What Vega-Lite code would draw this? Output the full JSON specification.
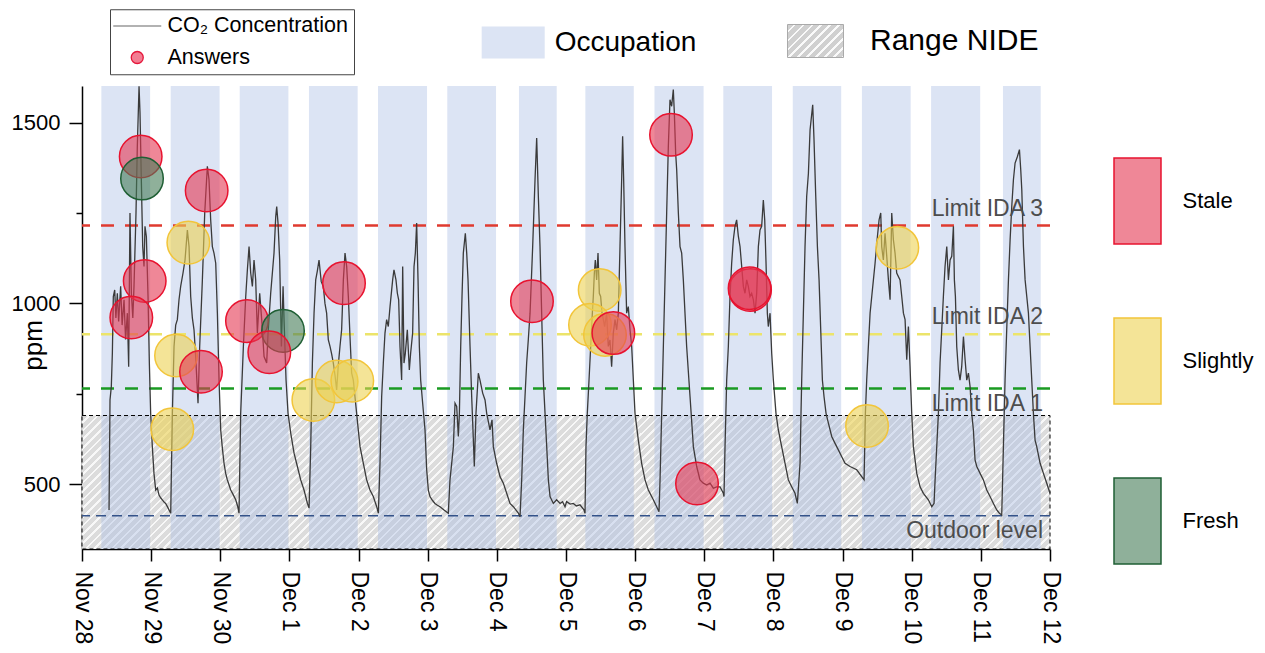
{
"$schema": "https://vega.github.io/schema/vega-lite/v6.json",
"width": 968, "height": 463,
"autosize": {"type": "none"},
"padding": {"left": 82, "top": 86, "right": 215, "bottom": 104},
"background": "white",
"config": {"font": "Liberation Sans", "view": {"stroke": null}, "legend": {"labelFont": "Liberation Sans", "labelColor": "black", "labelLimit": 400}},
"datasets": {
"nide": [{"from":0,"to":1,"lower":321,"upper":690},{"from":1,"to":2,"lower":321,"upper":690},{"from":2,"to":3,"lower":321,"upper":690},{"from":3,"to":4,"lower":321,"upper":690},{"from":4,"to":5,"lower":321,"upper":690},{"from":5,"to":6,"lower":321,"upper":690},{"from":6,"to":7,"lower":321,"upper":690},{"from":7,"to":8,"lower":321,"upper":690},{"from":8,"to":9,"lower":321,"upper":690},{"from":9,"to":10,"lower":321,"upper":690},{"from":10,"to":11,"lower":321,"upper":690},{"from":11,"to":12,"lower":321,"upper":690},{"from":12,"to":13,"lower":321,"upper":690},{"from":13,"to":14,"lower":321,"upper":690}],
"occupation": [{"start":0.28,"end":0.985},{"start":1.283,"end":1.99},{"start":2.281,"end":2.985},{"start":3.283,"end":3.987},{"start":4.281,"end":4.99},{"start":5.283,"end":5.988},{"start":6.32,"end":6.866},{"start":7.28,"end":7.98},{"start":8.28,"end":8.99},{"start":9.275,"end":9.98},{"start":10.28,"end":10.98},{"start":11.28,"end":11.985},{"start":12.28,"end":12.99},{"start":13.32,"end":13.866}],
"co2": [
{"t":0.391,"ppm":429},{"t":0.405,"ppm":733},{"t":0.424,"ppm":770},{"t":0.439,"ppm":862},{"t":0.453,"ppm":1019},{"t":0.473,"ppm":1037},{"t":0.49,"ppm":960},{"t":0.511,"ppm":1028},{"t":0.53,"ppm":950},{"t":0.559,"ppm":1047},{"t":0.58,"ppm":940},{"t":0.608,"ppm":1010},{"t":0.63,"ppm":900},{"t":0.656,"ppm":973},{"t":0.675,"ppm":825},{"t":0.694,"ppm":1250},{"t":0.714,"ppm":1028},{"t":0.735,"ppm":960},{"t":0.752,"ppm":1047},{"t":0.781,"ppm":1250},{"t":0.8,"ppm":1434},{"t":0.825,"ppm":1600},{"t":0.839,"ppm":1526},{"t":0.858,"ppm":1342},{"t":0.878,"ppm":1157},{"t":0.897,"ppm":1102},{"t":0.911,"ppm":1213},{"t":0.931,"ppm":1185},{"t":0.955,"ppm":1019},{"t":0.974,"ppm":835},{"t":0.993,"ppm":696},{"t":1.017,"ppm":604},{"t":1.041,"ppm":530},{"t":1.066,"ppm":484},{"t":1.09,"ppm":490},{"t":1.114,"ppm":470},{"t":1.14,"ppm":462},{"t":1.162,"ppm":457},{"t":1.19,"ppm":450},{"t":1.21,"ppm":447},{"t":1.235,"ppm":438},{"t":1.259,"ppm":429},{"t":1.283,"ppm":420},
{"t":1.307,"ppm":696},{"t":1.331,"ppm":881},{"t":1.355,"ppm":940},{"t":1.379,"ppm":955},{"t":1.403,"ppm":1010},{"t":1.427,"ppm":1047},{"t":1.461,"ppm":1084},{"t":1.49,"ppm":1120},{"t":1.524,"ppm":1203},{"t":1.548,"ppm":1157},{"t":1.572,"ppm":1019},{"t":1.596,"ppm":960},{"t":1.62,"ppm":927},{"t":1.644,"ppm":853},{"t":1.678,"ppm":724},{"t":1.702,"ppm":881},{"t":1.741,"ppm":1065},{"t":1.775,"ppm":1250},{"t":1.813,"ppm":1379},{"t":1.837,"ppm":1342},{"t":1.861,"ppm":1231},{"t":1.885,"ppm":1157},{"t":1.909,"ppm":1139},{"t":1.934,"ppm":1111},{"t":1.958,"ppm":973},{"t":1.982,"ppm":788},{"t":2.006,"ppm":650},{"t":2.03,"ppm":600},{"t":2.054,"ppm":558},{"t":2.078,"ppm":530},{"t":2.102,"ppm":512},{"t":2.127,"ppm":498},{"t":2.151,"ppm":484},{"t":2.19,"ppm":470},{"t":2.223,"ppm":457},{"t":2.25,"ppm":440},{"t":2.271,"ppm":420},
{"t":2.295,"ppm":696},{"t":2.334,"ppm":881},{"t":2.368,"ppm":1019},{"t":2.392,"ppm":1093},{"t":2.416,"ppm":1157},{"t":2.44,"ppm":1084},{"t":2.464,"ppm":1047},{"t":2.488,"ppm":1120},{"t":2.512,"ppm":1065},{"t":2.536,"ppm":918},{"t":2.57,"ppm":1028},{"t":2.599,"ppm":955},{"t":2.633,"ppm":853},{"t":2.671,"ppm":835},{"t":2.691,"ppm":918},{"t":2.729,"ppm":1028},{"t":2.777,"ppm":1139},{"t":2.802,"ppm":1240},{"t":2.816,"ppm":1268},{"t":2.835,"ppm":1222},{"t":2.859,"ppm":1120},{"t":2.884,"ppm":881},{"t":2.908,"ppm":1047},{"t":2.922,"ppm":955},{"t":2.951,"ppm":788},{"t":2.98,"ppm":696},{"t":3.019,"ppm":641},{"t":3.067,"ppm":586},{"t":3.115,"ppm":549},{"t":3.163,"ppm":512},{"t":3.211,"ppm":484},{"t":3.26,"ppm":447},{"t":3.284,"ppm":434},
{"t":3.308,"ppm":604},{"t":3.332,"ppm":835},{"t":3.356,"ppm":973},{"t":3.38,"ppm":1065},{"t":3.404,"ppm":1090},{"t":3.428,"ppm":1120},{"t":3.46,"ppm":1060},{"t":3.49,"ppm":1047},{"t":3.514,"ppm":1000},{"t":3.538,"ppm":973},{"t":3.562,"ppm":900},{"t":3.587,"ppm":881},{"t":3.611,"ppm":860},{"t":3.635,"ppm":835},{"t":3.66,"ppm":800},{"t":3.683,"ppm":761},{"t":3.707,"ppm":830},{"t":3.731,"ppm":881},{"t":3.755,"ppm":927},{"t":3.78,"ppm":1065},{"t":3.804,"ppm":1139},{"t":3.828,"ppm":1102},{"t":3.852,"ppm":1019},{"t":3.876,"ppm":908},{"t":3.9,"ppm":807},{"t":3.924,"ppm":788},{"t":3.948,"ppm":742},{"t":3.972,"ppm":696},{"t":3.996,"ppm":650},{"t":4.021,"ppm":604},{"t":4.069,"ppm":558},{"t":4.117,"ppm":512},{"t":4.165,"ppm":484},{"t":4.213,"ppm":466},{"t":4.262,"ppm":438},{"t":4.286,"ppm":420},
{"t":4.31,"ppm":558},{"t":4.334,"ppm":742},{"t":4.358,"ppm":835},{"t":4.382,"ppm":918},{"t":4.406,"ppm":955},{"t":4.43,"ppm":936},{"t":4.455,"ppm":991},{"t":4.493,"ppm":1065},{"t":4.512,"ppm":1093},{"t":4.541,"ppm":1065},{"t":4.561,"ppm":1028},{"t":4.58,"ppm":1010},{"t":4.599,"ppm":881},{"t":4.623,"ppm":788},{"t":4.638,"ppm":1102},{"t":4.657,"ppm":835},{"t":4.676,"ppm":862},{"t":4.705,"ppm":927},{"t":4.734,"ppm":816},{"t":4.753,"ppm":862},{"t":4.782,"ppm":918},{"t":4.802,"ppm":1102},{"t":4.821,"ppm":1139},{"t":4.84,"ppm":1222},{"t":4.86,"ppm":1065},{"t":4.879,"ppm":881},{"t":4.898,"ppm":788},{"t":4.927,"ppm":724},{"t":4.961,"ppm":650},{"t":4.985,"ppm":540},{"t":5.009,"ppm":484},{"t":5.033,"ppm":466},{"t":5.07,"ppm":455},{"t":5.105,"ppm":447},{"t":5.14,"ppm":442},{"t":5.178,"ppm":438},{"t":5.24,"ppm":428},{"t":5.298,"ppm":420},
{"t":5.322,"ppm":512},{"t":5.347,"ppm":558},{"t":5.371,"ppm":604},{"t":5.395,"ppm":724},{"t":5.419,"ppm":715},{"t":5.443,"ppm":632},{"t":5.458,"ppm":696},{"t":5.477,"ppm":881},{"t":5.496,"ppm":1019},{"t":5.515,"ppm":1139},{"t":5.544,"ppm":1194},{"t":5.564,"ppm":1139},{"t":5.583,"ppm":1065},{"t":5.612,"ppm":881},{"t":5.636,"ppm":742},{"t":5.66,"ppm":623},{"t":5.674,"ppm":549},{"t":5.698,"ppm":696},{"t":5.732,"ppm":807},{"t":5.756,"ppm":788},{"t":5.795,"ppm":752},{"t":5.829,"ppm":733},{"t":5.853,"ppm":696},{"t":5.901,"ppm":650},{"t":5.93,"ppm":678},{"t":5.949,"ppm":604},{"t":5.997,"ppm":558},{"t":6.046,"ppm":521},{"t":6.094,"ppm":503},{"t":6.142,"ppm":475},{"t":6.19,"ppm":447},{"t":6.239,"ppm":438},{"t":6.28,"ppm":428},{"t":6.311,"ppm":420},{"t":6.335,"ppm":410},
{"t":6.359,"ppm":512},{"t":6.383,"ppm":650},{"t":6.407,"ppm":742},{"t":6.431,"ppm":835},{"t":6.455,"ppm":900},{"t":6.48,"ppm":973},{"t":6.518,"ppm":1157},{"t":6.552,"ppm":1342},{"t":6.576,"ppm":1457},{"t":6.6,"ppm":1296},{"t":6.624,"ppm":1157},{"t":6.648,"ppm":973},{"t":6.672,"ppm":788},{"t":6.697,"ppm":696},{"t":6.721,"ppm":604},{"t":6.745,"ppm":512},{"t":6.769,"ppm":466},{"t":6.817,"ppm":447},{"t":6.865,"ppm":457},{"t":6.914,"ppm":447},{"t":6.95,"ppm":452},{"t":6.986,"ppm":438},{"t":7.009,"ppm":452},{"t":7.06,"ppm":445},{"t":7.106,"ppm":447},{"t":7.15,"ppm":440},{"t":7.202,"ppm":443},{"t":7.26,"ppm":429},{"t":7.275,"ppm":420},
{"t":7.289,"ppm":604},{"t":7.308,"ppm":696},{"t":7.333,"ppm":788},{"t":7.357,"ppm":881},{"t":7.381,"ppm":973},{"t":7.395,"ppm":1019},{"t":7.41,"ppm":1084},{"t":7.424,"ppm":1120},{"t":7.443,"ppm":1065},{"t":7.463,"ppm":1139},{"t":7.482,"ppm":1028},{"t":7.501,"ppm":1019},{"t":7.521,"ppm":973},{"t":7.54,"ppm":955},{"t":7.559,"ppm":936},{"t":7.588,"ppm":973},{"t":7.612,"ppm":881},{"t":7.636,"ppm":899},{"t":7.66,"ppm":825},{"t":7.684,"ppm":918},{"t":7.709,"ppm":955},{"t":7.733,"ppm":927},{"t":7.757,"ppm":973},{"t":7.781,"ppm":1157},{"t":7.805,"ppm":1342},{"t":7.819,"ppm":1462},{"t":7.834,"ppm":1342},{"t":7.853,"ppm":1157},{"t":7.877,"ppm":973},{"t":7.901,"ppm":991},{"t":7.926,"ppm":927},{"t":7.95,"ppm":881},{"t":7.974,"ppm":788},{"t":7.998,"ppm":696},{"t":8.046,"ppm":622},{"t":8.094,"ppm":558},{"t":8.143,"ppm":512},{"t":8.191,"ppm":484},{"t":8.263,"ppm":457},{"t":8.311,"ppm":438},{"t":8.345,"ppm":424},
{"t":8.36,"ppm":512},{"t":8.384,"ppm":696},{"t":8.408,"ppm":881},{"t":8.432,"ppm":1065},{"t":8.456,"ppm":1250},{"t":8.48,"ppm":1434},{"t":8.504,"ppm":1563},{"t":8.528,"ppm":1545},{"t":8.552,"ppm":1591},{"t":8.567,"ppm":1526},{"t":8.586,"ppm":1415},{"t":8.601,"ppm":1369},{"t":8.625,"ppm":1250},{"t":8.649,"ppm":1157},{"t":8.673,"ppm":1139},{"t":8.697,"ppm":1065},{"t":8.745,"ppm":881},{"t":8.794,"ppm":742},{"t":8.842,"ppm":604},{"t":8.89,"ppm":549},{"t":8.938,"ppm":512},{"t":8.986,"ppm":503},{"t":9.035,"ppm":498},{"t":9.083,"ppm":503},{"t":9.131,"ppm":489},{"t":9.179,"ppm":493},{"t":9.227,"ppm":493},{"t":9.276,"ppm":475},{"t":9.285,"ppm":466},
{"t":9.3,"ppm":604},{"t":9.324,"ppm":788},{"t":9.348,"ppm":881},{"t":9.372,"ppm":1019},{"t":9.396,"ppm":1111},{"t":9.42,"ppm":1176},{"t":9.444,"ppm":1213},{"t":9.468,"ppm":1231},{"t":9.493,"ppm":1185},{"t":9.517,"ppm":1157},{"t":9.541,"ppm":1102},{"t":9.565,"ppm":1047},{"t":9.589,"ppm":1028},{"t":9.613,"ppm":1065},{"t":9.637,"ppm":1047},{"t":9.661,"ppm":1019},{"t":9.685,"ppm":1028},{"t":9.71,"ppm":1010},{"t":9.734,"ppm":973},{"t":9.758,"ppm":1028},{"t":9.782,"ppm":1157},{"t":9.806,"ppm":1203},{"t":9.83,"ppm":1213},{"t":9.854,"ppm":1286},{"t":9.874,"ppm":1231},{"t":9.893,"ppm":1111},{"t":9.912,"ppm":973},{"t":9.926,"ppm":936},{"t":9.951,"ppm":973},{"t":9.975,"ppm":862},{"t":9.999,"ppm":788},{"t":10.037,"ppm":696},{"t":10.071,"ppm":650},{"t":10.119,"ppm":604},{"t":10.168,"ppm":558},{"t":10.216,"ppm":512},{"t":10.264,"ppm":493},{"t":10.312,"ppm":475},{"t":10.346,"ppm":447},
{"t":10.385,"ppm":558},{"t":10.399,"ppm":696},{"t":10.409,"ppm":788},{"t":10.433,"ppm":973},{"t":10.457,"ppm":1157},{"t":10.481,"ppm":1296},{"t":10.506,"ppm":1360},{"t":10.53,"ppm":1480},{"t":10.568,"ppm":1549},{"t":10.587,"ppm":1452},{"t":10.612,"ppm":1296},{"t":10.636,"ppm":1157},{"t":10.66,"ppm":1065},{"t":10.684,"ppm":927},{"t":10.708,"ppm":788},{"t":10.732,"ppm":742},{"t":10.761,"ppm":696},{"t":10.795,"ppm":669},{"t":10.843,"ppm":632},{"t":10.891,"ppm":613},{"t":10.939,"ppm":595},{"t":10.988,"ppm":576},{"t":11.036,"ppm":558},{"t":11.108,"ppm":549},{"t":11.205,"ppm":540},{"t":11.277,"ppm":521},{"t":11.311,"ppm":512},
{"t":11.33,"ppm":696},{"t":11.349,"ppm":788},{"t":11.373,"ppm":881},{"t":11.398,"ppm":973},{"t":11.422,"ppm":1019},{"t":11.446,"ppm":1065},{"t":11.47,"ppm":1111},{"t":11.504,"ppm":1185},{"t":11.528,"ppm":1231},{"t":11.552,"ppm":1250},{"t":11.566,"ppm":1157},{"t":11.59,"ppm":1120},{"t":11.614,"ppm":1194},{"t":11.639,"ppm":1130},{"t":11.663,"ppm":1065},{"t":11.687,"ppm":1010},{"t":11.711,"ppm":1250},{"t":11.735,"ppm":1176},{"t":11.759,"ppm":1139},{"t":11.783,"ppm":1084},{"t":11.831,"ppm":1065},{"t":11.856,"ppm":1019},{"t":11.88,"ppm":973},{"t":11.904,"ppm":955},{"t":11.928,"ppm":844},{"t":11.952,"ppm":936},{"t":11.976,"ppm":825},{"t":12.0,"ppm":696},{"t":12.024,"ppm":604},{"t":12.073,"ppm":530},{"t":12.121,"ppm":493},{"t":12.169,"ppm":475},{"t":12.241,"ppm":457},{"t":12.29,"ppm":438},{"t":12.323,"ppm":447},
{"t":12.338,"ppm":512},{"t":12.362,"ppm":604},{"t":12.386,"ppm":696},{"t":12.41,"ppm":835},{"t":12.434,"ppm":927},{"t":12.458,"ppm":1019},{"t":12.482,"ppm":1102},{"t":12.507,"ppm":1157},{"t":12.531,"ppm":1065},{"t":12.555,"ppm":1120},{"t":12.579,"ppm":1130},{"t":12.603,"ppm":1213},{"t":12.617,"ppm":1065},{"t":12.632,"ppm":1019},{"t":12.651,"ppm":881},{"t":12.675,"ppm":816},{"t":12.699,"ppm":788},{"t":12.723,"ppm":825},{"t":12.748,"ppm":908},{"t":12.772,"ppm":844},{"t":12.796,"ppm":788},{"t":12.82,"ppm":807},{"t":12.844,"ppm":770},{"t":12.868,"ppm":696},{"t":12.892,"ppm":650},{"t":12.916,"ppm":567},{"t":12.941,"ppm":549},{"t":12.989,"ppm":530},{"t":13.037,"ppm":512},{"t":13.085,"ppm":484},{"t":13.133,"ppm":466},{"t":13.182,"ppm":447},{"t":13.23,"ppm":429},{"t":13.268,"ppm":420},{"t":13.302,"ppm":415},
{"t":13.326,"ppm":604},{"t":13.35,"ppm":788},{"t":13.374,"ppm":927},{"t":13.399,"ppm":1065},{"t":13.423,"ppm":1176},{"t":13.447,"ppm":1268},{"t":13.471,"ppm":1342},{"t":13.495,"ppm":1388},{"t":13.529,"ppm":1406},{"t":13.558,"ppm":1425},{"t":13.577,"ppm":1369},{"t":13.592,"ppm":1314},{"t":13.616,"ppm":1157},{"t":13.64,"ppm":1065},{"t":13.664,"ppm":1019},{"t":13.688,"ppm":973},{"t":13.712,"ppm":881},{"t":13.736,"ppm":788},{"t":13.76,"ppm":696},{"t":13.784,"ppm":622},{"t":13.808,"ppm":604},{"t":13.857,"ppm":558},{"t":13.905,"ppm":530},{"t":13.953,"ppm":503},{"t":14.0,"ppm":475}
],
"answers": [
{"t":0.849,"ppm":1406,"answer":"Stale"},{"t":0.868,"ppm":1345,"answer":"Fresh"},{"t":1.803,"ppm":1312,"answer":"Stale"},{"t":1.538,"ppm":1168,"answer":"Slightly"},{"t":0.907,"ppm":1062,"answer":"Stale"},{"t":0.713,"ppm":961,"answer":"Stale"},{"t":1.36,"ppm":856,"answer":"Slightly"},{"t":1.721,"ppm":811,"answer":"Stale"},{"t":1.306,"ppm":652,"answer":"Slightly"},{"t":2.386,"ppm":951,"answer":"Stale"},{"t":2.907,"ppm":924,"answer":"Fresh"},{"t":2.709,"ppm":865,"answer":"Stale"},{"t":3.346,"ppm":733,"answer":"Slightly"},{"t":3.683,"ppm":784,"answer":"Slightly"},{"t":3.909,"ppm":786,"answer":"Slightly"},{"t":3.789,"ppm":1056,"answer":"Stale"},{"t":6.508,"ppm":1006,"answer":"Stale"},{"t":7.487,"ppm":1037,"answer":"Slightly"},{"t":7.347,"ppm":941,"answer":"Slightly"},{"t":7.564,"ppm":913,"answer":"Slightly"},{"t":7.685,"ppm":918,"answer":"Stale"},{"t":8.519,"ppm":1466,"answer":"Stale"},{"t":8.895,"ppm":502,"answer":"Stale"},{"t":9.662,"ppm":1037,"answer":"Stale"},{"t":9.655,"ppm":1042,"answer":"Stale"},{"t":11.792,"ppm":1154,"answer":"Slightly"},{"t":11.354,"ppm":661,"answer":"Slightly"}
]
},
"layer": [
{
"data": {"name": "nide"},
"mark": {"type": "rect", "fill": {"gradient": "linear", "x1": 0, "y1": 0, "x2": 0.6198, "y2": 1.1968, "stops": [
{"offset":0,"color":"#dcdcdc"},{"offset":0.02986,"color":"#dcdcdc"},{"offset":0.02986,"color":"#f8f8f8"},{"offset":0.04265,"color":"#f8f8f8"},
{"offset":0.04265,"color":"#dcdcdc"},{"offset":0.07251,"color":"#dcdcdc"},{"offset":0.07251,"color":"#f8f8f8"},{"offset":0.0853,"color":"#f8f8f8"},
{"offset":0.0853,"color":"#dcdcdc"},{"offset":0.11516,"color":"#dcdcdc"},{"offset":0.11516,"color":"#f8f8f8"},{"offset":0.12795,"color":"#f8f8f8"},
{"offset":0.12795,"color":"#dcdcdc"},{"offset":0.15781,"color":"#dcdcdc"},{"offset":0.15781,"color":"#f8f8f8"},{"offset":0.1706,"color":"#f8f8f8"},
{"offset":0.1706,"color":"#dcdcdc"},{"offset":0.20046,"color":"#dcdcdc"},{"offset":0.20046,"color":"#f8f8f8"},{"offset":0.21325,"color":"#f8f8f8"},
{"offset":0.21325,"color":"#dcdcdc"},{"offset":0.24311,"color":"#dcdcdc"},{"offset":0.24311,"color":"#f8f8f8"},{"offset":0.2559,"color":"#f8f8f8"},
{"offset":0.2559,"color":"#dcdcdc"},{"offset":0.28576,"color":"#dcdcdc"},{"offset":0.28576,"color":"#f8f8f8"},{"offset":0.29855,"color":"#f8f8f8"},
{"offset":0.29855,"color":"#dcdcdc"},{"offset":0.32841,"color":"#dcdcdc"},{"offset":0.32841,"color":"#f8f8f8"},{"offset":0.3412,"color":"#f8f8f8"},
{"offset":0.3412,"color":"#dcdcdc"},{"offset":0.37106,"color":"#dcdcdc"},{"offset":0.37106,"color":"#f8f8f8"},{"offset":0.38385,"color":"#f8f8f8"},
{"offset":0.38385,"color":"#dcdcdc"},{"offset":0.41371,"color":"#dcdcdc"},{"offset":0.41371,"color":"#f8f8f8"},{"offset":0.4265,"color":"#f8f8f8"},
{"offset":0.4265,"color":"#dcdcdc"},{"offset":0.45636,"color":"#dcdcdc"},{"offset":0.45636,"color":"#f8f8f8"},{"offset":0.46915,"color":"#f8f8f8"},
{"offset":0.46915,"color":"#dcdcdc"},{"offset":0.49901,"color":"#dcdcdc"},{"offset":0.49901,"color":"#f8f8f8"},{"offset":0.5118,"color":"#f8f8f8"},
{"offset":0.5118,"color":"#dcdcdc"},{"offset":0.54166,"color":"#dcdcdc"},{"offset":0.54166,"color":"#f8f8f8"},{"offset":0.55445,"color":"#f8f8f8"},
{"offset":0.55445,"color":"#dcdcdc"},{"offset":0.58431,"color":"#dcdcdc"},{"offset":0.58431,"color":"#f8f8f8"},{"offset":0.5971,"color":"#f8f8f8"},
{"offset":0.5971,"color":"#dcdcdc"},{"offset":0.62696,"color":"#dcdcdc"},{"offset":0.62696,"color":"#f8f8f8"},{"offset":0.63975,"color":"#f8f8f8"},
{"offset":0.63975,"color":"#dcdcdc"},{"offset":0.66961,"color":"#dcdcdc"},{"offset":0.66961,"color":"#f8f8f8"},{"offset":0.6824,"color":"#f8f8f8"},
{"offset":0.6824,"color":"#dcdcdc"},{"offset":0.71226,"color":"#dcdcdc"},{"offset":0.71226,"color":"#f8f8f8"},{"offset":0.72505,"color":"#f8f8f8"},
{"offset":0.72505,"color":"#dcdcdc"},{"offset":0.75491,"color":"#dcdcdc"},{"offset":0.75491,"color":"#f8f8f8"},{"offset":0.7677,"color":"#f8f8f8"},
{"offset":0.7677,"color":"#dcdcdc"},{"offset":0.79756,"color":"#dcdcdc"},{"offset":0.79756,"color":"#f8f8f8"},{"offset":0.81035,"color":"#f8f8f8"},
{"offset":0.81035,"color":"#dcdcdc"},{"offset":0.84021,"color":"#dcdcdc"},{"offset":0.84021,"color":"#f8f8f8"},{"offset":0.853,"color":"#f8f8f8"},
{"offset":0.853,"color":"#dcdcdc"},{"offset":0.88286,"color":"#dcdcdc"},{"offset":0.88286,"color":"#f8f8f8"},{"offset":0.89565,"color":"#f8f8f8"},
{"offset":0.89565,"color":"#dcdcdc"},{"offset":0.92551,"color":"#dcdcdc"},{"offset":0.92551,"color":"#f8f8f8"},{"offset":0.9383,"color":"#f8f8f8"},
{"offset":0.9383,"color":"#dcdcdc"},{"offset":0.96816,"color":"#dcdcdc"},{"offset":0.96816,"color":"#f8f8f8"},{"offset":0.98095,"color":"#f8f8f8"},
{"offset":0.98095,"color":"#dcdcdc"},{"offset":1,"color":"#dcdcdc"}]}},
"encoding": {
"x": {"field": "from", "type": "quantitative", "title": null, "scale": {"domain": [0, 14], "nice": false, "zero": false},
 "axis": {"values": [0,0.5,1,1.5,2,2.5,3,3.5,4,4.5,5,5.5,6,6.5,7,7.5,8,8.5,9,9.5,10,10.5,11,11.5,12,12.5,13,13.5,14],
  "labelExpr": "datum.value % 1 ? '' : ['Nov 28','Nov 29','Nov 30','Dec 1','Dec 2','Dec 3','Dec 4','Dec 5','Dec 6','Dec 7','Dec 8','Dec 9','Dec 10','Dec 11','Dec 12'][datum.value]",
  "labelAngle": 90, "labelFontSize": 23, "labelPadding": 10, "labelColor": "black", "labelOverlap": false, "labelFlush": false, "labelFont": "Liberation Sans",
  "tickSize": {"condition": {"test": "datum.value % 1 != 0", "value": 6}, "value": 12},
  "tickColor": "black", "tickWidth": 1.5, "domainColor": "black", "domainWidth": 1.5, "grid": false}},
"x2": {"field": "to"},
"y": {"field": "upper", "type": "quantitative", "title": "ppm", "scale": {"domain": [321, 1601], "nice": false, "zero": false},
 "axis": {"values": [500, 750, 1000, 1250, 1500], "labelExpr": "datum.value % 500 ? '' : format(datum.value, 'd')",
  "labelFontSize": 22, "labelPadding": 9, "labelColor": "black", "labelFont": "Liberation Sans",
  "tickSize": {"condition": {"test": "datum.value % 500 != 0", "value": 6}, "value": 13},
  "tickColor": "black", "tickWidth": 1.5, "domainColor": "black", "domainWidth": 1.5, "grid": false,
  "titleFontSize": 26, "titleFontWeight": "normal", "titleColor": "black", "titleFont": "Liberation Sans", "titleX": -49, "titleY": 259, "titleAngle": 270, "titleAlign": "center", "titleBaseline": "middle"}},
"y2": {"field": "lower"}
}
},
{
"data": {"name": "occupation"},
"mark": {"type": "rect", "opacity": 0.4},
"encoding": {
"x": {"field": "start", "type": "quantitative", "title": null},
"x2": {"field": "end"},
"fill": {"datum": "Occupation", "scale": {"range": ["#a8bbe4"]},
 "legend": {"title": null, "orient": "none", "legendX": 399.7, "legendY": -75, "symbolType": "M-1,-0.508H1V0.508H-1Z", "symbolSize": 3969, "symbolStrokeWidth": 0, "symbolOpacity": 0.4, "labelFontSize": 28, "labelOffset": 10, "padding": 0}}
}
},
{
"data": {"values": [{"from": 0, "to": 14, "lower": 321, "upper": 690}]},
"mark": {"type": "rect", "fillOpacity": 0, "stroke": "#000000", "strokeWidth": 1, "strokeDash": [4, 3]},
"encoding": {
"x": {"field": "from", "type": "quantitative", "title": null},
"x2": {"field": "to"},
"y": {"field": "upper", "type": "quantitative", "title": "ppm"},
"y2": {"field": "lower"}
}
},
{
"data": {"values": [{"ppm": 1215}]},
"mark": {"type": "rule", "color": "#df3a2f", "strokeWidth": 2.5, "strokeDash": [13, 11]},
"encoding": {"y": {"field": "ppm", "type": "quantitative", "title": "ppm"}}
},
{
"data": {"values": [{"ppm": 915}]},
"mark": {"type": "rule", "color": "#ece46a", "strokeWidth": 2.5, "strokeDash": [13, 11]},
"encoding": {"y": {"field": "ppm", "type": "quantitative", "title": "ppm"}}
},
{
"data": {"values": [{"ppm": 765}]},
"mark": {"type": "rule", "color": "#1a9a22", "strokeWidth": 2.5, "strokeDash": [13, 11]},
"encoding": {"y": {"field": "ppm", "type": "quantitative", "title": "ppm"}}
},
{
"data": {"values": [{"ppm": 413}]},
"mark": {"type": "rule", "color": "#34538a", "strokeWidth": 1.5, "strokeDash": [10, 6]},
"encoding": {"y": {"field": "ppm", "type": "quantitative", "title": "ppm"}}
},
{
"data": {"name": "co2"},
"mark": {"type": "line", "color": "#3a3a3a", "strokeWidth": 1.3},
"encoding": {
"x": {"field": "t", "type": "quantitative", "title": null},
"y": {"field": "ppm", "type": "quantitative", "title": "ppm"}
}
},
{
"data": {"name": "answers"},
"mark": {"type": "point", "filled": true, "size": 1810, "fillOpacity": 0.6, "strokeWidth": 1.5, "strokeOpacity": 1},
"encoding": {
"x": {"field": "t", "type": "quantitative", "title": null},
"y": {"field": "ppm", "type": "quantitative", "title": "ppm"},
"fill": {"field": "answer", "type": "nominal", "scale": {"domain": ["Stale", "Slightly", "Fresh"], "range": ["#e43752", "#edd252", "#447b57"]},
 "legend": {"title": null, "orient": "none", "legendX": 1011.5, "legendY": 71, "symbolType": "M-0.5465,-1H0.5465V1H-0.5465Z", "symbolSize": 7396, "symbolStrokeColor": "black", "symbolStrokeWidth": 1.5, "labelFontSize": 22, "labelOffset": 1, "rowPadding": 68, "padding": 0,
  "encode": {"symbols": {"update": {"fillOpacity": {"value": 0.6}, "stroke": {"value": "black"}, "opacity": {"value": 1}}}}}},
"stroke": {"field": "answer", "type": "nominal", "scale": {"domain": ["Stale", "Slightly", "Fresh"], "range": ["#e8132f", "#f2c53a", "#1f5f34"]}, "legend": null}
}
},
{
"data": {"values": [{"label": "Limit IDA 3", "ppm": 1261}, {"label": "Limit IDA 2", "ppm": 962}, {"label": "Limit IDA 1", "ppm": 722}, {"label": "Outdoor level", "ppm": 371}]},
"mark": {"type": "text", "align": "right", "baseline": "middle", "fontSize": 23, "color": "#4d4d4d", "dx": -7, "font": "Liberation Sans"},
"encoding": {
"x": {"datum": 14, "type": "quantitative"},
"y": {"field": "ppm", "type": "quantitative", "title": "ppm"},
"text": {"field": "label"}
}
},
{
"data": {"values": [{"item": "Range NIDE"}]},
"mark": {"type": "rect", "clip": true, "strokeWidth": 1, "fill": {"gradient": "linear", "x1": 0, "y1": 0, "x2": 1.18, "y2": 0.695, "stops": [
{"offset":0,"color":"#d0d0d0"},{"offset":0.07,"color":"#d0d0d0"},{"offset":0.07,"color":"#fafafa"},{"offset":0.1,"color":"#fafafa"},
{"offset":0.1,"color":"#d0d0d0"},{"offset":0.17,"color":"#d0d0d0"},{"offset":0.17,"color":"#fafafa"},{"offset":0.2,"color":"#fafafa"},
{"offset":0.2,"color":"#d0d0d0"},{"offset":0.27,"color":"#d0d0d0"},{"offset":0.27,"color":"#fafafa"},{"offset":0.3,"color":"#fafafa"},
{"offset":0.3,"color":"#d0d0d0"},{"offset":0.37,"color":"#d0d0d0"},{"offset":0.37,"color":"#fafafa"},{"offset":0.4,"color":"#fafafa"},
{"offset":0.4,"color":"#d0d0d0"},{"offset":0.47,"color":"#d0d0d0"},{"offset":0.47,"color":"#fafafa"},{"offset":0.5,"color":"#fafafa"},
{"offset":0.5,"color":"#d0d0d0"},{"offset":0.57,"color":"#d0d0d0"},{"offset":0.57,"color":"#fafafa"},{"offset":0.6,"color":"#fafafa"},
{"offset":0.6,"color":"#d0d0d0"},{"offset":0.67,"color":"#d0d0d0"},{"offset":0.67,"color":"#fafafa"},{"offset":0.7,"color":"#fafafa"},
{"offset":0.7,"color":"#d0d0d0"},{"offset":0.77,"color":"#d0d0d0"},{"offset":0.77,"color":"#fafafa"},{"offset":0.8,"color":"#fafafa"},
{"offset":0.8,"color":"#d0d0d0"},{"offset":0.87,"color":"#d0d0d0"},{"offset":0.87,"color":"#fafafa"},{"offset":0.9,"color":"#fafafa"},
{"offset":0.9,"color":"#d0d0d0"},{"offset":0.97,"color":"#d0d0d0"},{"offset":0.97,"color":"#fafafa"},{"offset":1,"color":"#fafafa"}]}},
"encoding": {
"x": {"datum": -5, "type": "quantitative"},
"x2": {"datum": -4},
"y": {"datum": 400, "type": "quantitative"},
"y2": {"datum": 500},
"stroke": {"field": "item", "type": "nominal", "scale": {"domain": ["Range NIDE"], "range": ["#aaaaaa"]},
 "legend": {"title": null, "orient": "none", "legendX": 705, "legendY": -73.5, "symbolType": "M-1,-0.589H1V0.589H-1Z", "symbolSize": 3136, "symbolStrokeWidth": 1, "symbolOpacity": 1, "labelFontSize": 30, "labelOffset": 26, "padding": 0}}
}
},
{
"data": {"values": [{"item": "CO₂ Concentration"}, {"item": "Answers"}]},
"mark": {"type": "point", "filled": true, "clip": true, "strokeWidth": 1.3},
"encoding": {
"x": {"datum": -5, "type": "quantitative"},
"y": {"datum": 400, "type": "quantitative"},
"shape": {"field": "item", "type": "nominal", "scale": {"domain": ["CO₂ Concentration", "Answers"], "range": ["M-2.25,0H5.75", "M2.75,0A1,1,0,1,1,0.75,0A1,1,0,1,1,2.75,0Z"]},
 "legend": {"title": null, "orient": "none", "legendX": 28, "legendY": -76.75, "labelFontSize": 21.5, "labelOffset": 30, "padding": 6, "rowPadding": 8.5, "strokeColor": "#444444", "fillColor": "white", "symbolOpacity": 1, "symbolSize": 144, "symbolStrokeWidth": 1.3}},
"fill": {"field": "item", "type": "nominal", "scale": {"domain": ["CO₂ Concentration", "Answers"], "range": ["#999999", "#f27d92"]}},
"stroke": {"field": "item", "type": "nominal", "scale": {"domain": ["CO₂ Concentration", "Answers"], "range": ["#999999", "#e5163a"]}}
}
}
],
"resolve": {"scale": {"fill": "independent", "stroke": "independent", "shape": "independent"}}
}
